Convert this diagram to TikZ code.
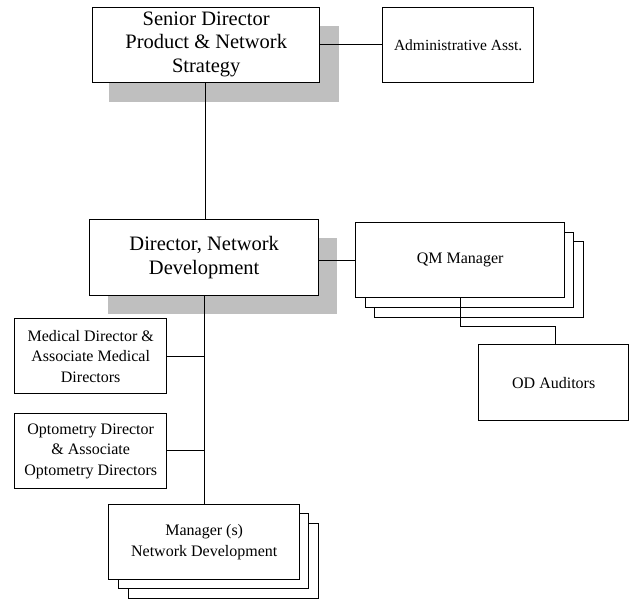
\documentclass[tikz,border=0pt]{standalone}
\usepackage{fontspec}
\setmainfont{Liberation Serif}
\begin{document}
\begin{tikzpicture}[x=1pt,y=-1pt,
  box/.style={draw=black,fill=white,line width=1.4pt,inner sep=0pt,anchor=north west,align=center},
  shadowbox/.style={fill=black!25,draw=none},
  conn/.style={draw=black,line width=0.9pt},
  big/.style={font=\fontsize{20.5}{23.5}\selectfont},
  med/.style={font=\fontsize{16}{20.5}\selectfont},
  small/.style={font=\fontsize{15.5}{18}\selectfont}]
\useasboundingbox (0,0) rectangle (634,599);
% shadows
\fill[shadowbox] (109,26) rectangle (339,102);
\fill[shadowbox] (108,238) rectangle (337,314);
% junction points
\coordinate (mj1) at (204,356);
\coordinate (mj2) at (204,450);
\coordinate (qa) at (460,326);
\coordinate (qb) at (555,326);
% senior
\node[box,big,minimum width=227pt,minimum height=75pt,text depth=6pt] (sen) at (92,7) {Senior Director\\Product \& Network\\Strategy};
\node[box,small,minimum width=151pt,minimum height=75pt] (adm) at (382,7) {Administrative Asst.};
% director
\node[box,big,minimum width=229pt,minimum height=76pt] (dir) at (89,219) {Director, Network\\Development};
% QM stack
\node[box,minimum width=209pt,minimum height=76pt] (qm3) at (374,241) {};
\node[box,minimum width=208pt,minimum height=75pt] (qm2) at (365,232) {};
\node[box,med,minimum width=209pt,minimum height=75pt] (qm) at (355,222) {QM Manager};
% OD
\node[box,med,minimum width=150pt,minimum height=76pt] (od) at (478,344) {OD Auditors};
% medical, optometry
\node[box,med,minimum width=152pt,minimum height=75pt] (md) at (14,318) {Medical Director \&\\Associate Medical\\Directors};
\node[box,med,minimum width=152pt,minimum height=75pt] (opt) at (14,413) {Optometry Director\\\& Associate\\Optometry Directors};
% manager stack
\node[box,minimum width=190pt,minimum height=75pt] (mg3) at (128,523) {};
\node[box,minimum width=190pt,minimum height=75pt] (mg2) at (118,513) {};
\node[box,med,minimum width=191pt,minimum height=75pt] (mg) at (108,504) {Manager (s)\\Network Development};
% connectors
\draw[conn] (sen.south -| 205,0) -- (dir.north -| 205,0);
\draw[conn] (sen.east |- 0,44) -- (adm.west |- 0,44);
\draw[conn] (dir.east |- 0,260) -- (qm.west |- 0,260);
\draw[conn] (dir.south -| mj1) -- (mg.north -| mj1);
\draw[conn] (md.east |- mj1) -- (mj1);
\draw[conn] (opt.east |- mj2) -- (mj2);
\draw[conn] (qm.south -| qa) -- (qa) -- (qb) -- (od.north -| qb);
\end{tikzpicture}
\end{document}
